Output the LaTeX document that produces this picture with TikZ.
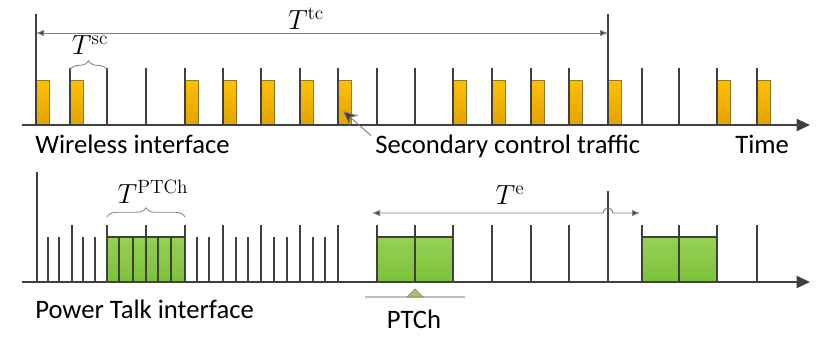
\documentclass[tikz,border=0pt]{standalone}
\usepackage[no-math]{fontspec}
\setmainfont{Carlito}
\usepackage{xcolor}
\usepackage{tikz}
\usetikzlibrary{arrows.meta, decorations.pathreplacing}

\definecolor{axisgray}{HTML}{404040}
\definecolor{dimgray}{HTML}{7F7F7F}
\definecolor{slottop}{HTML}{FFC000}
\definecolor{slotbot}{HTML}{E2A400}
\definecolor{slotedge}{HTML}{8C7A3C}
\definecolor{ptctop}{HTML}{96D155}
\definecolor{ptcbot}{HTML}{7CC13A}
\definecolor{markgreen}{HTML}{A8BD78}

\begin{document}
\begin{tikzpicture}[x=0.75pt, y=-0.75pt]

\tikzstyle{axis} =
[draw=axisgray,
line width=1.5pt,
-{Triangle[length=10pt, width=9pt]}]

\tikzstyle{tick} =
[draw=axisgray,
line width=1.4pt]

\tikzstyle{slot} =
[draw=slotedge,
line width=0.6pt,
top color=slottop,
bottom color=slotbot]

\tikzstyle{ptcslot} =
[draw=axisgray,
line width=0.8pt,
top color=ptctop,
bottom color=ptcbot]

\tikzstyle{dim} =
[draw=dimgray,
line width=0.7pt,
{Latex[length=6pt, width=5pt, fill=axisgray]}-{Latex[length=6pt, width=5pt, fill=axisgray]}]

\tikzstyle{brace} =
[draw=dimgray,
line width=0.6pt,
decorate,
decoration={brace, amplitude=7pt}]

\tikzstyle{label} =
[font=\fontsize{20}{24}\selectfont,
inner sep=0pt,
anchor=base west]

\tikzstyle{period} =
[font=\fontsize{20}{24}\selectfont,
inner sep=0pt]

\useasboundingbox (0,0) rectangle (830,336);

% wireless interface
\foreach \x in {36,70,185,223,261,300,338,453,492,531,569,608,717,757}
  \draw[slot] (\x,80) rectangle ++(13,45);
\foreach \x in {70,107,146,185,223,261,300,338,377,415,453,492,531,569,642,679,717,757}
  \draw[tick] (\x,68) -- (\x,125);
\draw[tick] (36,14) -- (36,125);
\draw[tick] (608,14) -- (608,125);
\draw[axis] (22,125) -- (810,125);

\coordinate (tcL) at (36,33);
\coordinate (tcR) at (608,33);
\draw[dim] (tcL) -- (tcR);
\node (tc) [period] at (306,19) {$T^{\mathrm{tc}}$};

\draw[brace] (70,70) -- (107,70);
\node (sc) [period] at (90,45) {$T^{\mathrm{sc}}$};

\node (wireless) [label] at (35,153) {Wireless interface};
\node (sct) [label] at (375,153) {Secondary control traffic};
\node (time) [label] at (735,153) {Time};
\coordinate (sctip) at (343,111);
\draw[draw=dimgray, line width=0.7pt, -{Stealth[length=11pt, width=10pt, fill=axisgray]}]
  ([xshift=-3pt, yshift=-1pt]sct.north west) -- (sctip);

% power talk interface
\draw[ptcslot] (107,237) rectangle (185,282);
\draw[ptcslot] (377,237) rectangle (453,282);
\draw[ptcslot] (642,237) rectangle (717,282);
\foreach \x in {48,59,83,95,119,133,158,171,197,209,236,248,274,287,313,325}
  \draw[tick] (\x,237) -- (\x,282);
\foreach \x in {72,107,146,185,223,261,300,338,377,415,453,492,531,569,642,679,717,757}
  \draw[tick] (\x,225) -- (\x,282);
\draw[tick] (37,172) -- (37,282);
\draw[tick] (608,191) -- (608,282);
\draw[axis] (22,282) -- (810,282);

\draw[brace] (107,217) -- (185,217);
\node (ptch) [period] at (153,192) {$T^{\mathrm{PTCh}}$};

\coordinate (eL) at (372,213);
\coordinate (hop) at (603,213);
\coordinate (eR) at (640,213);
\draw[dim] (eL) -- (hop) arc[start angle=180, end angle=360, radius=5] -- (eR);
\node (te) [period] at (510,195) {$T^{\mathrm{e}}$};

\coordinate (ptcL) at (365,297);
\coordinate (ptcR) at (465,297);
\draw[draw=black!25, line width=1pt] (ptcL) -- (ptcR);
\draw[draw=markgreen!70!black, fill=markgreen, line width=0.5pt]
  (407,297) -- (415,289) -- (423,297) -- cycle;

\node (power) [label] at (35,318) {Power Talk interface};
\node (ptchname) [label, anchor=base] at (414,328) {PTCh};

\end{tikzpicture}
\end{document}
